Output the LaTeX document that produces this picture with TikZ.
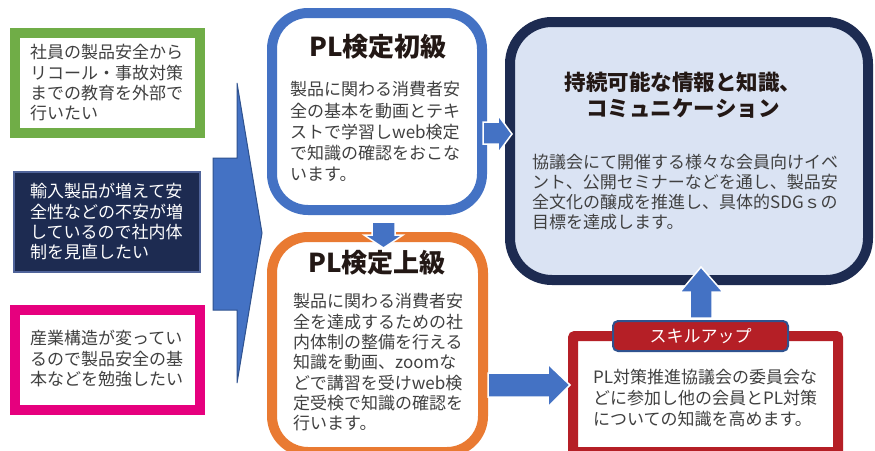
\documentclass[tikz,border=0pt]{standalone}
\usepackage{fontspec}
\setmainfont{Noto Sans CJK JP}
\definecolor{cgreen}{HTML}{70AD47}
\definecolor{cnavy}{HTML}{1D2B51}
\definecolor{cnavyedge}{HTML}{50649A}
\definecolor{cmag}{HTML}{E6007E}
\definecolor{cblue}{HTML}{4472C4}
\definecolor{cbluedark}{HTML}{2F528F}
\definecolor{corange}{HTML}{E97A32}
\definecolor{cred}{HTML}{B51F26}
\definecolor{clight}{HTML}{DAE3F3}
\definecolor{ctext}{HTML}{404040}
\definecolor{ctitle}{HTML}{231815}
\tikzset{
  framebox/.style={line width=10pt},
  body/.style={anchor=north west, inner sep=0pt, align=left, text=ctext,
    font=\fontsize{17}{20.3}\selectfont},
  titletext/.style={inner sep=0pt, align=center, text=ctitle},
  blockarrow/.style={fill=cblue, draw=white, line width=1.5pt, line join=miter},
}
\begin{document}
\begin{tikzpicture}[x=1pt,y=-1pt]
\useasboundingbox (0,0) rectangle (875,450);
\clip (0,0) rectangle (875,450);
\fill[white] (0,0) rectangle (875,450);

% left boxes
\draw[framebox, draw=cgreen, fill=white] (15,33) rectangle (200,133);
\node[body] (t1) at (30,44.3) {社員の製品安全から\\リコール・事故対策\\までの教育を外部で\\行いたい};

\draw[fill=cnavy, draw=cnavyedge, line width=1.5pt] (14,172) rectangle (200,272);
\node[body, text=white] (t2) at (30,183.3) {輸入製品が増えて安\\全性などの不安が増\\しているので社内体\\制を見直したい};

\draw[framebox, draw=cmag, fill=white] (15,310) rectangle (200,410);
\node[body] (t3) at (30,330.3) {産業構造が変ってい\\るので製品安全の基\\本などを勉強したい};

% big arrow
\draw[fill=cblue, draw=cbluedark, line width=1pt, line join=miter]
  (213,158) -- (237,158) -- (237,83) -- (262,233) -- (237,383) -- (237,310) -- (213,310) -- cycle;

% PL 初級
\draw[framebox, draw=cblue, fill=white, rounded corners=36pt] (272,13) rectangle (482,210);
\node[titletext, font=\fontsize{26}{30}\selectfont\bfseries] (h1) at (378,47) {PL検定初級};
\node[body, font=\fontsize{17}{21.2}\selectfont] (b1) at (290,81.3) {製品に関わる消費者安\\全の基本を動画とテキ\\ストで学習しweb検定\\で知識の確認をおこな\\います。};

% PL 上級
\draw[framebox, draw=corange, fill=white, rounded corners=36pt] (272,237) rectangle (483,452);
\node[titletext, font=\fontsize{26}{30}\selectfont\bfseries] (h2) at (377,263) {PL検定上級};
\node[body] (b2) at (293,293.3) {製品に関わる消費者安\\全を達成するための社\\内体制の整備を行える\\知識を動画、zoomな\\どで講習を受けweb検\\定受検で知識の確認を\\行います。};

% big right box
\draw[framebox, draw=cnavy, fill=clight, rounded corners=42pt] (510,22) rectangle (868,280);
\node[titletext, font=\fontsize{21.5}{26}\selectfont\bfseries] (h3) at (683,95) {持続可能な情報と知識、\\コミュニケーション};
\node[body, font=\fontsize{17}{20}\selectfont] (b3) at (532,154.3) {協議会にて開催する様々な会員向けイベ\\ント、公開セミナーなどを通し、製品安\\全文化の醸成を推進し、具体的SDGｓの\\目標を達成します。};

% skill box
\draw[framebox, draw=cred, fill=white, rounded corners=2pt] (573,336) rectangle (838,452);
\node[body, font=\fontsize{17}{21}\selectfont] (b4) at (593,369.3) {PL対策推進協議会の委員会な\\どに参加し他の会員とPL対策\\についての知識を高めます。};
\draw[fill=cred, draw=cbluedark, line width=2pt, rounded corners=5pt] (613,321) rectangle (788,351);
\node[inner sep=0pt, text=white, font=\fontsize{17}{20}\selectfont] (lab) at (700.5,336) {スキルアップ};

% block arrows
\draw[blockarrow] (372,222) -- (395,222) -- (395,235) -- (403,235) -- (383.5,248) -- (364,235) -- (372,235) -- cycle;
\draw[blockarrow] (483,122) -- (498,122) -- (498,115) -- (512,134) -- (498,153) -- (498,144) -- (483,144) -- cycle;
\draw[blockarrow] (488,373) -- (548,373) -- (548,364) -- (570,385) -- (548,407) -- (548,397) -- (488,397) -- cycle;
\draw[blockarrow] (690,318) -- (712,318) -- (712,292) -- (723,292) -- (701,267) -- (680,292) -- (690,292) -- cycle;
\end{tikzpicture}
\end{document}
